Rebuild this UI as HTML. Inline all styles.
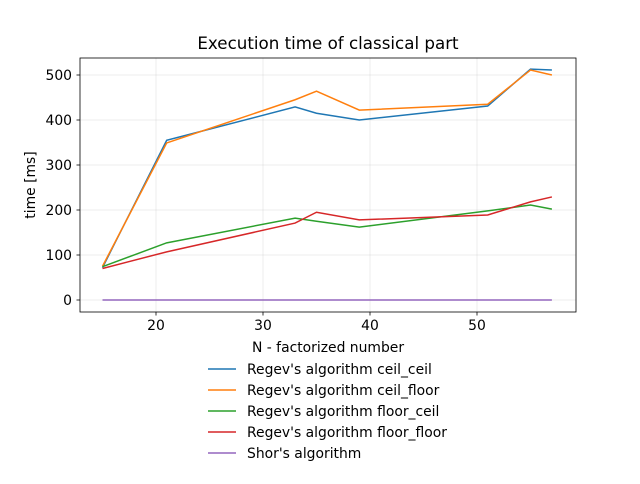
<!DOCTYPE html>
<html><head><meta charset="utf-8"><style>
body{margin:0;background:#fff;font-family:"DejaVu Sans","Liberation Sans",sans-serif;}
svg text{font-family:"DejaVu Sans","Liberation Sans",sans-serif;}
</style></head><body>
<svg id="chart" width="640" height="480" xmlns="http://www.w3.org/2000/svg">
<rect width="640" height="480" fill="#fff"/>
<text x="328" y="49" font-size="16.7" text-anchor="middle">Execution time of classical part</text>
<g id="grid"></g>
<g id="series"></g>
<rect x="80" y="58" width="496" height="254" fill="none" stroke="#000" stroke-width="0.8"/>
<g id="axes"></g>
<text x="328" y="352" font-size="13.9" text-anchor="middle">N - factorized number</text>
<text transform="translate(35,185) rotate(-90)" font-size="13.9" text-anchor="middle">time [ms]</text>
<g id="legend"></g>
</svg>
<script>
const xValues=[15,21,33,35,39,51,55,57];
const ceilCeil=[72,355,429,415,400,431,513,511];
const ceilFloor=[75,349,445,464,422,435,511,500];
const floorCeil=[74,127,182,175,162,198,211,202];
const floorFloor=[70,107,171,195,178,189,218,229];
const shor=[0,0,0,0,0,0,0,0];
const xTicks=[20,30,40,50];
const yTicks=[0,100,200,300,400,500];
const seriesNames=["Regev's algorithm ceil_ceil","Regev's algorithm ceil_floor","Regev's algorithm floor_ceil","Regev's algorithm floor_floor","Shor's algorithm"];
const colors=["#1f77b4","#ff7f0e","#2ca02c","#d62728","#9467bd"];
const allSeries=[ceilCeil,ceilFloor,floorCeil,floorFloor,shor];
const NS="http://www.w3.org/2000/svg";
function xs(v){return 102.5+(v-15)*10.7;}
function ys(v){return 300-v*0.45;}
function mk(tag,attrs,parent){const e=document.createElementNS(NS,tag);for(const k in attrs)e.setAttribute(k,attrs[k]);parent.appendChild(e);return e;}
const grid=document.getElementById('grid'),axes=document.getElementById('axes'),ser=document.getElementById('series'),leg=document.getElementById('legend');
xTicks.forEach(t=>{const x=xs(t);
 const g=mk('line',{x1:x,x2:x,y1:58,y2:312,stroke:'#b0b0b0','stroke-width':0.8,'stroke-opacity':0.3},grid);
 
 const l=mk('line',{x1:x,x2:x,y1:312,y2:315.5,stroke:'#000','stroke-width':0.8},axes);
 
 const tx=mk('text',{x:x,y:330,'font-size':13.9,'text-anchor':'middle'},axes);tx.textContent=t;
 });
yTicks.forEach(t=>{const y=ys(t);
 const g=mk('line',{x1:80,x2:576,y1:y,y2:y,stroke:'#b0b0b0','stroke-width':0.8,'stroke-opacity':0.3},grid);
 
 const l=mk('line',{x1:76.5,x2:80,y1:y,y2:y,stroke:'#000','stroke-width':0.8},axes);
 
 const tx=mk('text',{x:72,y:y+5,'font-size':13.9,'text-anchor':'end'},axes);tx.textContent=t;
 });
allSeries.forEach((s,i)=>{
 const p=mk('polyline',{points:s.map((v,j)=>xs(xValues[j])+','+ys(v)).join(' '),fill:'none',stroke:colors[i],'stroke-width':1.5},ser);
 
 const y=369+i*21;
 const ll=mk('line',{x1:208,x2:236,y1:y,y2:y,stroke:colors[i],'stroke-width':1.5},leg);
 
 const tx=mk('text',{x:247,y:y+5,'font-size':13.9},leg);tx.textContent=seriesNames[i];
 });
</script>
</body></html>
